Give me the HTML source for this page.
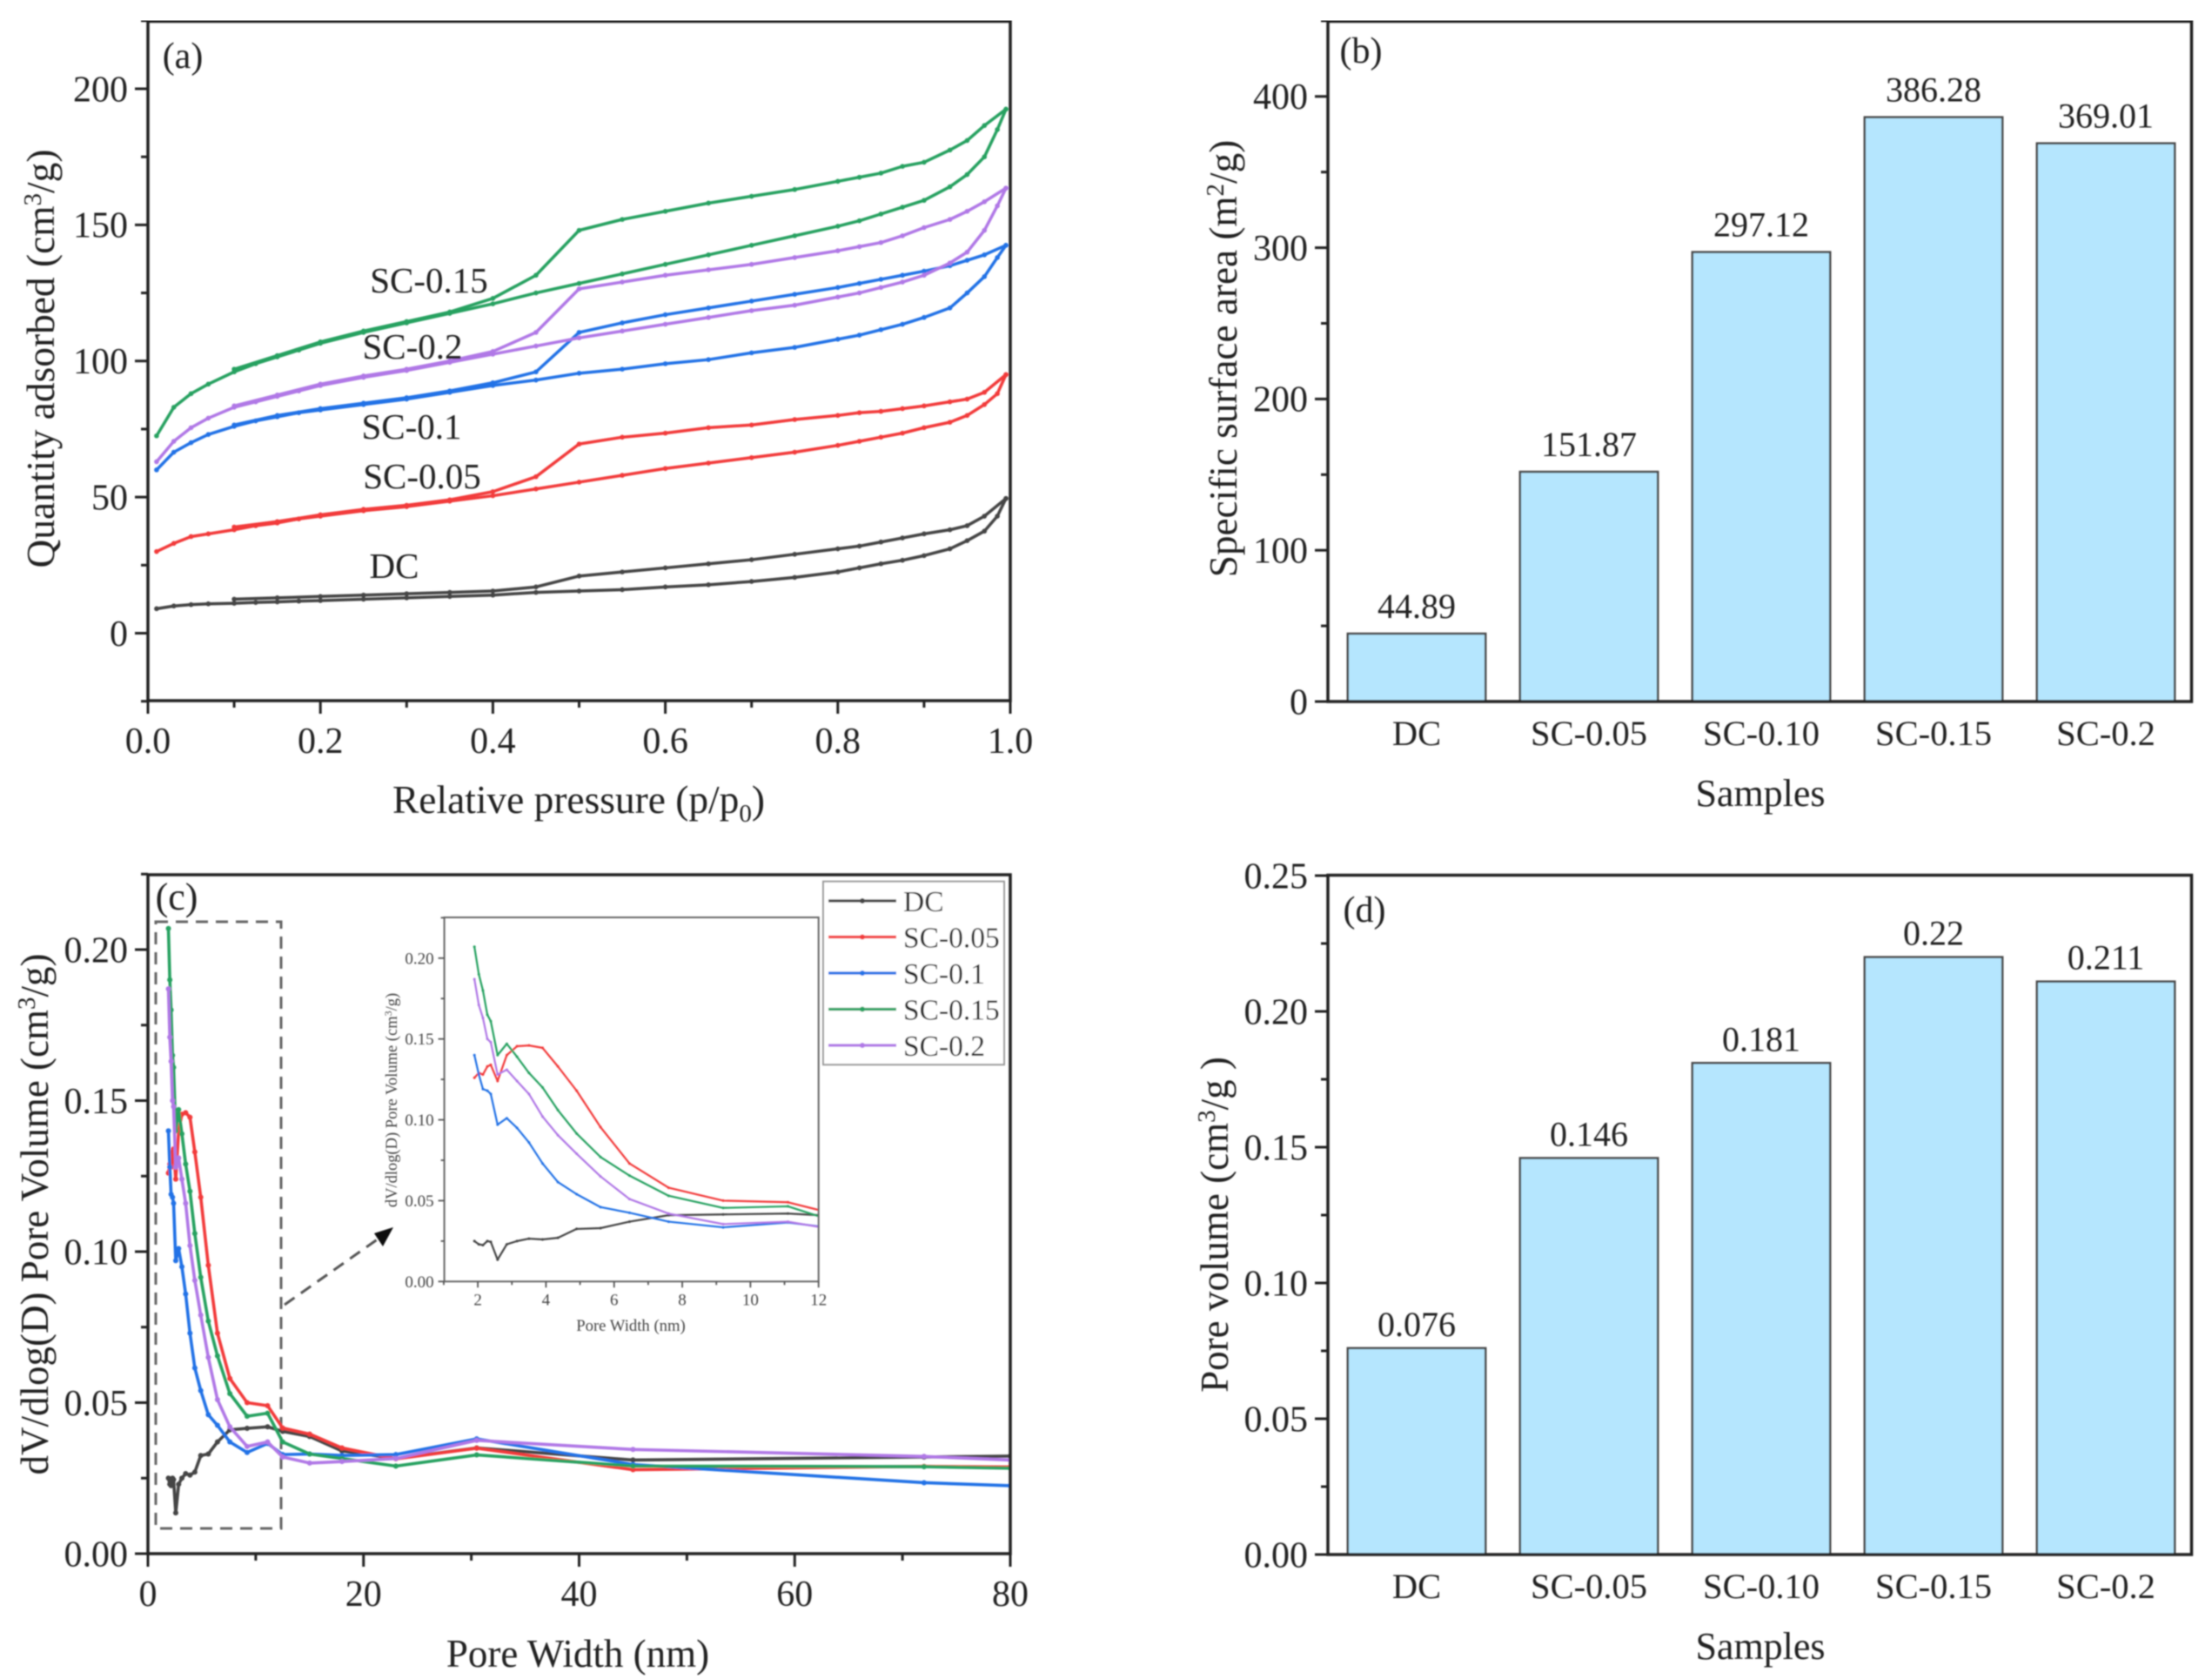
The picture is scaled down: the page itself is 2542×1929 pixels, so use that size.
<!DOCTYPE html>
<html lang="en">
<head>
<meta charset="utf-8">
<title>Porosity characterisation of DC and SC samples</title>
<style>
  html, body { margin: 0; padding: 0; background: #fff; }
  svg { display: block; }
  text { font-family: "Liberation Serif", serif; fill: #222; }
</style>
</head>
<body>
<svg id="figure" xmlns="http://www.w3.org/2000/svg" width="2542" height="1929" viewBox="0 0 2542 1929">
  <defs>
    <filter id="soft" x="0" y="0" width="100%" height="100%"><feGaussianBlur stdDeviation="0.8"/></filter>
    <clipPath id="clip-a"><rect x="170" y="24" width="991" height="782"/></clipPath>
    <clipPath id="clip-c"><rect x="170" y="1005" width="991" height="780"/></clipPath>
    <clipPath id="clip-inset"><rect x="510" y="1054" width="431" height="419"/></clipPath>
  </defs>
  <rect width="2542" height="1929" fill="#fff"/>
  <g id="root" filter="url(#soft)">
    <text x="210" y="78" font-size="42" text-anchor="middle">(a)</text>
    <text x="1564" y="72" font-size="42" text-anchor="middle">(b)</text>
    <text x="203" y="1045" font-size="44" text-anchor="middle">(c)</text>
    <text x="1568" y="1059" font-size="42" text-anchor="middle">(d)</text>

    <text transform="translate(62,412) rotate(-90)" font-size="45.4" text-anchor="middle">Quantity adsorbed (cm<tspan dy="-15" font-size="29">3</tspan><tspan dy="15">/g)</tspan></text>
    <text x="665" y="934" font-size="45.4" text-anchor="middle">Relative pressure (p/p<tspan dy="10" font-size="29">0</tspan><tspan dy="-10">)</tspan></text>

    <text transform="translate(1421,412) rotate(-90)" font-size="45.2" text-anchor="middle">Specific surface area (m<tspan dy="-15" font-size="29">2</tspan><tspan dy="15">/g)</tspan></text>
    <text x="2023" y="926" font-size="44" text-anchor="middle">Samples</text>

    <text transform="translate(55,1395) rotate(-90)" font-size="45" text-anchor="middle">dV/dlog(D) Pore Volume (cm<tspan dy="-15" font-size="29">3</tspan><tspan dy="15">/g)</tspan></text>
    <text x="664" y="1915" font-size="45" text-anchor="middle">Pore Width (nm)</text>

    <text transform="translate(1411,1407) rotate(-90)" font-size="45" text-anchor="middle">Pore volume (cm<tspan dy="-15" font-size="29">3</tspan><tspan dy="15">/g )</tspan></text>
    <text x="2023" y="1906" font-size="44" text-anchor="middle">Samples</text>

    <text transform="translate(456,1264) rotate(-90)" font-size="18.5" text-anchor="middle" style="fill:#444">dV/dlog(D) Pore Volume (cm<tspan dy="-6" font-size="12">3</tspan><tspan dy="6">/g)</tspan></text>
    <text x="725" y="1529" font-size="18.7" text-anchor="middle" style="fill:#444">Pore Width (nm)</text>

    <rect x="179" y="1059" width="144" height="697" fill="none" stroke="#666" stroke-width="3" stroke-dasharray="14 9"/>
    <line x1="327" y1="1499" x2="435" y2="1423" stroke="#555" stroke-width="3" stroke-dasharray="14 9"/>
    <polygon points="452,1410 430,1417 440,1432" fill="#111"/>
  </g>
</svg>
<script>
/* ---------- panel (a): nitrogen isotherms ---------- */
const adsorptionPressures = [0.01,0.03,0.05,0.07,0.1,0.125,0.15,0.175,0.2,0.25,0.3,0.35,0.4,0.45,0.5,0.55,0.6,0.65,0.7,0.75,0.8,0.825,0.85,0.875,0.9,0.93,0.95,0.97,0.985,0.995];
const desorptionPressures = [0.995,0.97,0.95,0.93,0.9,0.875,0.85,0.825,0.8,0.75,0.7,0.65,0.6,0.55,0.5,0.45,0.4,0.35,0.3,0.25,0.2,0.15,0.1];
const adsDC   = [9,10,10.5,10.8,11,11.3,11.5,11.8,12,12.5,13,13.5,14,15,15.5,16,17,17.8,19,20.5,22.5,24,25.5,26.8,28.5,31,34,37.5,43,49.5];
const desDC   = [49.5,43,39.5,38,36.5,35,33.5,32,31,29,27,25.5,24,22.5,21,17,15.5,15,14.5,14,13.5,13,12.5];
const adsSC005 = [30,33,35.5,36.5,38,39.5,40.5,42,43,45,46.5,48.5,50.5,53,55.5,58,60.5,62.5,64.5,66.5,69,70.5,72,73.5,75.5,77.5,80,84,88,95];
const desSC005 = [95,88.5,86,85,83.5,82.5,81.5,81,80,78.5,76.5,75.5,73.5,72,69.5,57.5,52,49,47,45.5,43.5,41,39];
const adsSC01 = [60,66.5,70,73,76,78,79.5,81,82,84,86,88.5,91,93,95.5,97,99,100.5,103,105,108,109.5,111.5,113.5,116,119.5,125,131,138,142.5];
const desSC01 = [142.5,139,137,135,133,131.5,130,128.5,127,124.5,122,119.5,117,114,110.5,96,92,89,86.5,84.5,82.5,80,76.5];
const adsSC015 = [72.5,83,88,91.5,96,99,101.5,104,106.5,110.5,114,117.5,121,125,128.5,132,135.5,139,142.5,146,149.5,151.5,154,156.5,159,164,168.5,175,185,192.5];
const desSC015 = [192.5,186.5,181,177.5,173,171.5,169,167.5,166,163,160.5,158,155,152,148,131.5,123,118,114.5,111,107,102,97];
const adsSC02 = [63,70.5,75.5,79,83,85,87,89,91,94,96.5,99.5,102.5,105.5,108.5,111,113.5,116,118.5,120.5,123.5,125,127,129,131.5,136,140,148,157,163.5];
const desSC02 = [163.5,158.5,155,152,149,146,143.5,142,140.5,138,135.5,133.5,131.5,129,126.5,110.5,103.5,100,97,94.5,91.5,87.5,83.5];
const aXTicks = ['0.0','0.2','0.4','0.6','0.8','1.0'];
const aYTicks = ['0','50','100','150','200'];

/* ---------- panel (c) and inset: pore size distribution ---------- */
const poreWidths = [1.9,2.03,2.15,2.28,2.38,2.58,2.85,3.15,3.5,3.9,4.35,4.9,5.6,6.45,7.6,9.2,11.1,12.5,15,18,23,30.5,45,72,80];
const psdDC    = [0.025,0.023,0.0225,0.025,0.0245,0.0135,0.023,0.025,0.0265,0.026,0.027,0.0325,0.033,0.037,0.041,0.0415,0.042,0.0405,0.0388,0.034,0.0315,0.035,0.031,0.032,0.0323];
const psdSC005 = [0.126,0.129,0.128,0.133,0.134,0.124,0.14,0.1455,0.146,0.1445,0.133,0.118,0.0955,0.073,0.058,0.05,0.049,0.0416,0.0396,0.035,0.0314,0.0349,0.0278,0.0289,0.0287];
const psdSC01  = [0.14,0.128,0.119,0.118,0.116,0.097,0.101,0.095,0.086,0.073,0.0615,0.054,0.046,0.0425,0.037,0.0335,0.0365,0.0328,0.033,0.0325,0.0328,0.038,0.0295,0.0235,0.0225];
const psdSC015 = [0.207,0.19,0.18,0.165,0.161,0.14,0.147,0.139,0.129,0.12,0.106,0.0915,0.077,0.0655,0.053,0.0455,0.0465,0.037,0.033,0.0315,0.029,0.0327,0.029,0.0288,0.0283];
const psdSC02  = [0.187,0.171,0.163,0.15,0.148,0.128,0.131,0.124,0.116,0.102,0.0905,0.079,0.065,0.051,0.042,0.0355,0.037,0.032,0.03,0.0305,0.0315,0.0375,0.0345,0.0322,0.031];
const cXTicks = ['0','20','40','60','80'];
const cYTicks = ['0.00','0.05','0.10','0.15','0.20'];
const insetXTicks = ['2','4','6','8','10','12'];
const insetYTicks = ['0.00','0.05','0.10','0.15','0.20'];

/* ---------- panels (b) and (d): bars ---------- */
const barCategories = ['DC','SC-0.05','SC-0.10','SC-0.15','SC-0.2'];
const surfaceAreas = [44.89,151.87,297.12,386.28,369.01];
const poreVolumes = [0.076,0.146,0.181,0.22,0.211];
const surfaceAreaLabels = ['44.89','151.87','297.12','386.28','369.01'];
const poreVolumeLabels = ['0.076','0.146','0.181','0.22','0.211'];
const bYTicks = ['0','100','200','300','400'];
const dYTicks = ['0.00','0.05','0.10','0.15','0.20','0.25'];

/* ---------- shared ---------- */
const seriesNames = ['DC','SC-0.05','SC-0.1','SC-0.15','SC-0.2'];
const seriesColors = ['#454545','#f23a3a','#2272e6','#27a160','#b078e6'];
const isoLabels = ['DC','SC-0.05','SC-0.1','SC-0.2','SC-0.15'];

const NS = 'http://www.w3.org/2000/svg';
const root = document.getElementById('root');

function make(tag, attrs, parent) {
  const e = document.createElementNS(NS, tag);
  for (const k in attrs) e.setAttribute(k, attrs[k]);
  (parent || root).appendChild(e);
  return e;
}
function slug(s) { return s.toLowerCase().replace(/[^a-z0-9]+/g, '-'); }
function scale(d0, d1, r0, r1) { return v => r0 + (v - d0) * (r1 - r0) / (d1 - d0); }

function frame(prefix, x0, x1, y0, y1, color, w) {
  const f = make('rect', {x: x0, y: y0, width: x1 - x0, height: y1 - y0, fill: 'none', stroke: color, 'stroke-width': w});
  
  
}
function xAxis(prefix, sx, y1, labels, minorStep, xMin, xMax, opt) {
  const g = make('g', {});
  
  
  const vals = labels.map(Number);
  const n = Math.round((xMax - xMin) / minorStep);
  for (let i = 0; i <= n; i++) {
    const v = xMin + i * minorStep;
    const isMajor = vals.some(m => Math.abs(m - v) < 1e-9);
    const t = make('line', {x1: sx(v), x2: sx(v), y1: y1, y2: y1 + (isMajor ? opt.major : opt.minor), stroke: opt.color, 'stroke-width': opt.w}, g);
    
    
  }
  labels.forEach(l => {
    const t = make('text', {x: sx(Number(l)), y: y1 + opt.labelDy, 'font-size': opt.font, 'text-anchor': 'middle', style: 'fill:' + opt.text}, g);
    t.textContent = l;
    
    
  });
}
function yAxis(prefix, sy, x0, labels, minorStep, yMin, yMax, opt) {
  const g = make('g', {});
  
  
  const vals = labels.map(Number);
  const n = Math.round((yMax - yMin) / minorStep);
  for (let i = 0; i <= n; i++) {
    const v = yMin + i * minorStep;
    const isMajor = vals.some(m => Math.abs(m - v) < 1e-9);
    const t = make('line', {x1: x0, x2: x0 - (isMajor ? opt.major : opt.minor), y1: sy(v), y2: sy(v), stroke: opt.color, 'stroke-width': opt.w}, g);
    
    
  }
  labels.forEach(l => {
    const t = make('text', {x: x0 - opt.labelDx, y: sy(Number(l)) + opt.font * 0.34, 'font-size': opt.font, 'text-anchor': 'end', style: 'fill:' + opt.text}, g);
    t.textContent = l;
    
    
  });
}
function series(prefix, name, xs, ys, sx, sy, color, lw, r, clip) {
  const g = make('g', {'clip-path': 'url(#' + clip + ')'});
  
  
  const pts = xs.map((x, i) => sx(x) + ',' + sy(ys[i])).join(' ');
  const line = make('polyline', {points: pts, fill: 'none', stroke: color, 'stroke-width': lw, 'stroke-linejoin': 'round'}, g);
  
  
  xs.forEach((x, i) => {
    const c = make('circle', {cx: sx(x), cy: sy(ys[i]), r: r, fill: color}, g);
    
    
  });
}

const mainAxis = {major: 15, minor: 8, w: 3, color: '#222', font: 42, labelDy: 60, labelDx: 23, text: '#222'};

/* panel a */
const ax = scale(0, 1, 170, 1161), ay = scale(0, 200, 727.5, 102);
const adsSets = [adsDC, adsSC005, adsSC01, adsSC015, adsSC02];
const desSets = [desDC, desSC005, desSC01, desSC015, desSC02];
seriesNames.forEach((n, i) => {
  series('a-adsorption', n, adsorptionPressures, adsSets[i], ax, ay, seriesColors[i], 3.5, 2.8, 'clip-a');
  series('a-desorption', n, desorptionPressures, desSets[i], ax, ay, seriesColors[i], 3.5, 2.8, 'clip-a');
});
frame('a', 170, 1161, 24.5, 805, '#222', 3.5);
xAxis('a', ax, 805, aXTicks, 0.1, 0, 1, mainAxis);
yAxis('a', ay, 170, aYTicks, 25, -25, 225, mainAxis);

const isoLabelX = [453, 485, 473, 474, 493];
const isoLabelY = [664, 561, 504, 412, 336];
isoLabels.forEach((l, i) => {
  const t = make('text', {x: isoLabelX[i], y: isoLabelY[i], 'font-size': 41, 'text-anchor': 'middle'});
  t.textContent = l;
  
  
});

/* panel c */
const cx = scale(0, 80, 170, 1161), cy = scale(0, 0.2, 1785, 1091);
const psdSets = [psdDC, psdSC005, psdSC01, psdSC015, psdSC02];
seriesNames.forEach((n, i) => {
  series('c', n, poreWidths, psdSets[i], cx, cy, seriesColors[i], 3.6, 3, 'clip-c');
});
frame('c', 170, 1161, 1005, 1785, '#222', 3.5);
xAxis('c', cx, 1785, cXTicks, 10, 0, 80, mainAxis);
yAxis('c', cy, 170, cYTicks, 0.025, 0, 0.225, mainAxis);

/* inset */
const ix = scale(2, 12, 549.1, 940.7), iy = scale(0, 0.2, 1472.3, 1100.8);
const insetAxis = {major: 7, minor: 4, w: 1.8, color: '#555', font: 19, labelDy: 27, labelDx: 12, text: '#444'};
seriesNames.forEach((n, i) => {
  series('inset', n, poreWidths, psdSets[i], ix, iy, seriesColors[i], 2.2, 1.5, 'clip-inset');
});
frame('inset', 510.6, 940.7, 1054, 1472.3, '#666', 2);
xAxis('inset', ix, 1472.3, insetXTicks, 1, 1, 12, insetAxis);
yAxis('inset', iy, 510.6, insetYTicks, 0.025, 0, 0.225, insetAxis);

/* legend */
const legend = make('g', {});


const legendBox = make('rect', {x: 946, y: 1012.7, width: 208, height: 210.5, fill: '#fff', stroke: '#999', 'stroke-width': 2}, legend);


seriesNames.forEach((n, i) => {
  const y = 1035 + i * 41.5;
  const l = make('line', {x1: 952, x2: 1030, y1: y, y2: y, stroke: seriesColors[i], 'stroke-width': 3.2}, legend);
  
  
  const m = make('circle', {cx: 991, cy: y, r: 3, fill: seriesColors[i]}, legend);
  
  
  const t = make('text', {x: 1038, y: y + 12, 'font-size': 33.5}, legend);
  t.textContent = n;
  
  
});

/* bar panels */
function barPanel(prefix, values, printed, sy, yTop, yBottom, ticks, minorStep, yMax, valueGap) {
  const band = scale(0.5, 5.5, 1529, 2519);
  values.forEach((v, i) => {
    const cx0 = band(i + 1);
    const bw = (band(2) - band(1)) * 0.8;
    const b = make('rect', {x: cx0 - bw / 2, y: sy(v), width: bw, height: yBottom - sy(v), fill: '#b5e6fe', stroke: '#4a4a4a', 'stroke-width': 2.5});
    
    
    const t = make('text', {x: cx0, y: sy(v) - valueGap, 'font-size': 40, 'text-anchor': 'middle'});
    t.textContent = printed[i];
    
    
    const c = make('text', {x: cx0, y: yBottom + 50, 'font-size': 40.5, 'text-anchor': 'middle'});
    c.textContent = barCategories[i];
    
    
  });
  frame(prefix, 1526, 2518.5, yTop, yBottom, '#222', 3.5);
  yAxis(prefix, sy, 1526, ticks, minorStep, 0, yMax, mainAxis);
}
barPanel('b', surfaceAreas, surfaceAreaLabels, scale(0, 400, 806, 110.8), 24.5, 806, bYTicks, 50, 450, 18);
barPanel('d', poreVolumes, poreVolumeLabels, scale(0, 0.2, 1786, 1162), 1005.5, 1786, dYTicks, 0.025, 0.25, 14);
</script>
</body>
</html>
